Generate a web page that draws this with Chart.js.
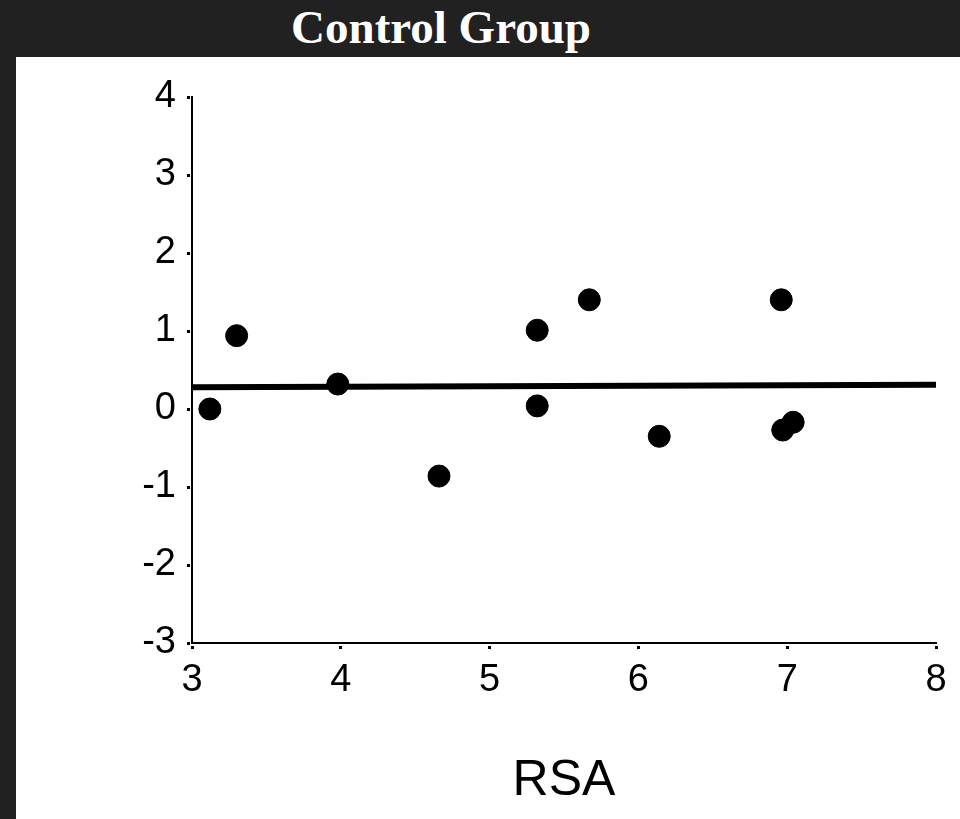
<!DOCTYPE html>
<html>
<head>
<meta charset="utf-8">
<script src="https://cdn.jsdelivr.net/npm/chart.js@4/dist/chart.umd.min.js"></script>
<style>
  html, body { margin: 0; padding: 0; background: #212121; }
  body { width: 960px; height: 819px; position: relative; overflow: hidden; }
  #title {
    position: absolute; left: 0; top: 0; width: 882px; height: 57px;
    color: #fff; font-family: "Liberation Serif", "Times New Roman", serif;
    font-weight: bold; font-size: 47px; line-height: 55px; text-align: center;
  }
  #panel { position: absolute; left: 16px; top: 57px; width: 944px; height: 762px; background: #fff; }
  canvas { display: block; }
</style>
</head>
<body>
<div id="title">Control Group</div>
<div id="panel"><canvas id="chart" width="944" height="762"></canvas></div>
<script>
// Observations: RSA (x) against outcome score (y)
const rsaValues   = [3.12, 3.30, 3.98, 4.66, 5.32, 5.32, 5.67, 6.14, 6.96, 6.97, 7.04];
const scoreValues = [0.00, 0.94, 0.32, -0.86, 1.01, 0.04, 1.40, -0.35, 1.40, -0.27, -0.17];

// Fitted line end points
const fitX = [3, 8];
const fitY = [0.28, 0.31];

// Axis ranges and labels
const xTicks = [3, 4, 5, 6, 7, 8];
const yTicks = [-3, -2, -1, 0, 1, 2, 3, 4];
const xTitle = 'RSA';

const points = rsaValues.map((x, i) => ({ x: x, y: scoreValues[i] }));
const fitLine = fitX.map((x, i) => ({ x: x, y: fitY[i] }));

const tickFont = { family: '"Liberation Sans", Arial, sans-serif', size: 38 };

new Chart(document.getElementById('chart'), {
  type: 'scatter',
  data: {
    datasets: [
      {
        type: 'line',
        data: fitLine,
        borderColor: '#000',
        borderWidth: 6,
        pointRadius: 0,
        fill: false,
        order: 2
      },
      {
        data: points,
        backgroundColor: '#000',
        borderColor: '#000',
        pointRadius: 11,
        pointHoverRadius: 11,
        order: 1
      }
    ]
  },
  options: {
    responsive: false,
    animation: false,
    events: [],
    layout: { padding: { top: 40, right: 24, left: 0, bottom: 0 } },
    plugins: { legend: { display: false }, tooltip: { enabled: false }, title: { display: false } },
    scales: {
      x: {
        type: 'linear',
        min: xTicks[0],
        max: xTicks[xTicks.length - 1],
        afterBuildTicks: s => { s.ticks = xTicks.map(v => ({ value: v })); },
        afterFit: s => { s.height = 176; },
        border: { display: true, color: '#000', width: 2 },
        grid: {
          drawOnChartArea: false, drawTicks: true, tickLength: 6,
          tickColor: '#000', tickWidth: 3,
          tickBorderDash: [0, 2, 3, 20]
        },
        ticks: { color: '#000', font: tickFont, padding: 9, maxRotation: 0 },
        title: {
          display: true, text: xTitle, color: '#000',
          font: { family: '"Liberation Sans", Arial, sans-serif', size: 50 },
          padding: { top: 0, bottom: 8 }
        }
      },
      y: {
        type: 'linear',
        min: yTicks[0],
        max: yTicks[yTicks.length - 1],
        afterBuildTicks: s => { s.ticks = yTicks.map(v => ({ value: v })); },
        afterFit: s => { s.width = 176; },
        border: { display: true, color: '#000', width: 2 },
        grid: {
          drawOnChartArea: false, drawTicks: true, tickLength: 5,
          tickColor: '#000', tickWidth: 3,
          tickBorderDash: [3, 20]
        },
        ticks: { color: '#000', font: tickFont, padding: 11 }
      }
    }
  }
});
</script>
</body>
</html>
